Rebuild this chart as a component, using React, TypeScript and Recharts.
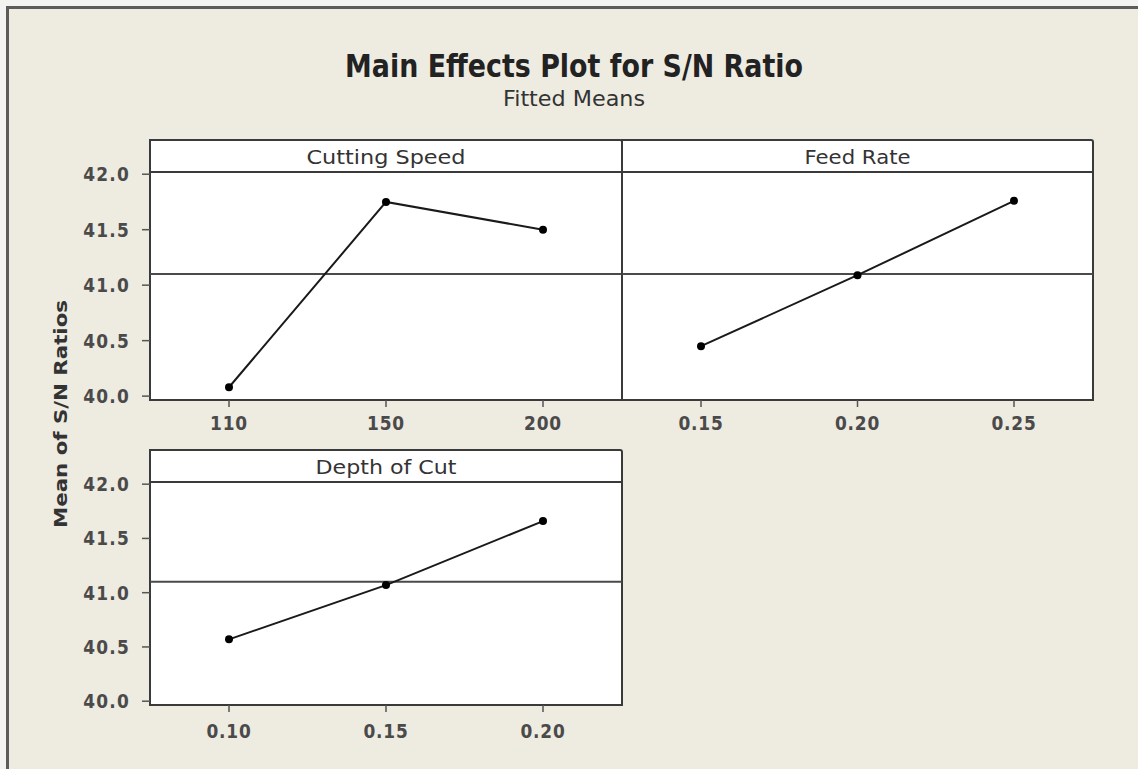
import React from 'react';
import { LineChart, Line, XAxis, YAxis, ReferenceLine } from 'recharts';

// factor levels and fitted means of S/N ratio
const cuttingSpeedLevels = ['110', '150', '200'];
const cuttingSpeedMeans = [40.08, 41.75, 41.5];
const feedRateLevels = ['0.15', '0.20', '0.25'];
const feedRateMeans = [40.45, 41.09, 41.76];
const depthOfCutLevels = ['0.10', '0.15', '0.20'];
const depthOfCutMeans = [40.57, 41.07, 41.66];
const grandMean = 41.1;
const yTicks = [40.0, 40.5, 41.0, 41.5, 42.0];
const yDomain = [39.965, 42.02];

const FONT = '"DejaVu Sans", Verdana, sans-serif';
const FRAME = '#3a3a3a';

function XTick(props: any) {
  const { x, y, payload, shiftY } = props;
  return (
    <g transform={`translate(${x},${y + shiftY}) scale(1,1.15)`}>
      <text x={0} y={0} dy="0.36em" textAnchor="middle" fontFamily={FONT} fontWeight="bold" fontSize={17} fill="#4a4a4a" letterSpacing={0.8}>
        {payload.value}
      </text>
    </g>
  );
}

function YTick(props: any) {
  const { x, y, payload } = props;
  return (
    <g transform={`translate(${x - 12},${y}) scale(1,1.15)`}>
      <text x={0} y={0} dy="0.36em" textAnchor="end" fontFamily={FONT} fontWeight="bold" fontSize={17} fill="#4a4a4a" letterSpacing={1.2}>
        {Number(payload.value).toFixed(1)}
      </text>
    </g>
  );
}

type PanelProps = {
  plotLeft: number;
  plotTop: number;
  plotWidth: number;
  plotHeight: number;
  levels: string[];
  means: number[];
  showY: boolean;
  tickShift: number;
};

function EffectPanel({ plotLeft, plotTop, plotWidth, plotHeight, levels, means, showY, tickShift }: PanelProps) {
  const data = levels.map((level, i) => ({ level, mean: means[i] }));
  const yw = showY ? 100 : 0;
  const pad = Math.round(plotWidth / 6);
  return (
    <>
      <div
        style={{
          position: 'absolute',
          left: plotLeft - 1,
          top: plotTop - 33,
          width: plotWidth + 2,
          height: plotHeight + 34,
          border: `2px solid ${FRAME}`,
          boxSizing: 'border-box',
          background: '#fff',
          borderTopRightRadius: 3,
        }}
      />
      <div style={{ position: 'absolute', left: plotLeft - 1, top: plotTop - 1, width: plotWidth + 2, height: 2, background: FRAME }} />
      <div style={{ position: 'absolute', left: plotLeft - yw, top: plotTop - 10 }}>
        <LineChart
          width={yw + plotWidth + 10}
          height={plotHeight + 60}
          data={data}
          margin={{ top: 10, right: 10, bottom: 5, left: 0 }}
        >
          <XAxis
            dataKey="level"
            type="category"
            padding={{ left: pad, right: pad }}
            axisLine={false}
            tickLine={{ stroke: '#555', strokeWidth: 1.5 }}
            tickSize={7}
            tickMargin={0}
            height={45}
            interval={0}
            tick={<XTick shiftY={tickShift} />}
          />
          <YAxis
            type="number"
            domain={yDomain}
            ticks={yTicks}
            allowDataOverflow
            hide={!showY}
            width={yw}
            axisLine={false}
            tickLine={{ stroke: '#555', strokeWidth: 1.5 }}
            tickSize={8}
            tickMargin={0}
            tick={<YTick />}
          />
          <ReferenceLine y={grandMean} stroke="#4a4a4a" strokeWidth={2} />
          <Line
            type="linear"
            dataKey="mean"
            stroke="#1a1a1a"
            strokeWidth={2}
            dot={{ r: 4, fill: '#000', stroke: '#000', strokeWidth: 0 }}
            activeDot={false}
            isAnimationActive={false}
          />
        </LineChart>
      </div>
    </>
  );
}

export default function App() {
  const top = { plotTop: 172, plotHeight: 228 };
  const bottom = { plotTop: 482, plotHeight: 223 };
  const left = { plotLeft: 150, plotWidth: 472 };
  const right = { plotLeft: 622, plotWidth: 471 };

  const strip = (label: string, col: { plotLeft: number; plotWidth: number }, row: { plotTop: number }, w: number) => (
    <g transform={`translate(${col.plotLeft + col.plotWidth / 2},${row.plotTop - 8}) scale(1,1.15)`}>
      <text x={0} y={0} textAnchor="middle" fontFamily={FONT} fontSize={17} fill="#333" textLength={w} lengthAdjust="spacingAndGlyphs">
        {label}
      </text>
    </g>
  );

  return (
    <div style={{ position: 'absolute', left: 0, top: 0, width: 1138, height: 769, overflow: 'hidden', background: '#f3f3f1' }}>
      <div
        style={{
          position: 'absolute',
          left: 6,
          top: 6,
          width: 1200,
          height: 800,
          borderLeft: '3px solid #5c5c5c',
          borderTop: '3px solid #5c5c5c',
          background: '#eeebe1',
        }}
      />
      <EffectPanel {...left} {...top} levels={cuttingSpeedLevels} means={cuttingSpeedMeans} showY tickShift={16} />
      <EffectPanel {...right} {...top} levels={feedRateLevels} means={feedRateMeans} showY={false} tickShift={16} />
      <EffectPanel {...left} {...bottom} levels={depthOfCutLevels} means={depthOfCutMeans} showY tickShift={19} />
      <svg width={1138} height={769} style={{ position: 'absolute', left: 0, top: 0, pointerEvents: 'none' }}>
        <g transform="translate(574,77) scale(1,1.37)">
          <text x={0} y={0} textAnchor="middle" fontFamily={FONT} fontWeight="bold" fontSize={23} fill="#222" textLength={458} lengthAdjust="spacingAndGlyphs">
            Main Effects Plot for S/N Ratio
          </text>
        </g>
        <g transform="translate(574,106) scale(1,1.15)">
          <text x={0} y={0} textAnchor="middle" fontFamily={FONT} fontSize={19} fill="#333" textLength={142} lengthAdjust="spacingAndGlyphs">
            Fitted Means
          </text>
        </g>
        <g transform="translate(67,414) rotate(-90)">
          <text x={0} y={0} textAnchor="middle" fontFamily={FONT} fontWeight="bold" fontSize={18} fill="#333" textLength={228} lengthAdjust="spacingAndGlyphs">
            Mean of S/N Ratios
          </text>
        </g>
        {strip('Cutting Speed', left, top, 159)}
        {strip('Feed Rate', right, top, 106)}
        {strip('Depth of Cut', left, bottom, 141)}
      </svg>
    </div>
  );
}
